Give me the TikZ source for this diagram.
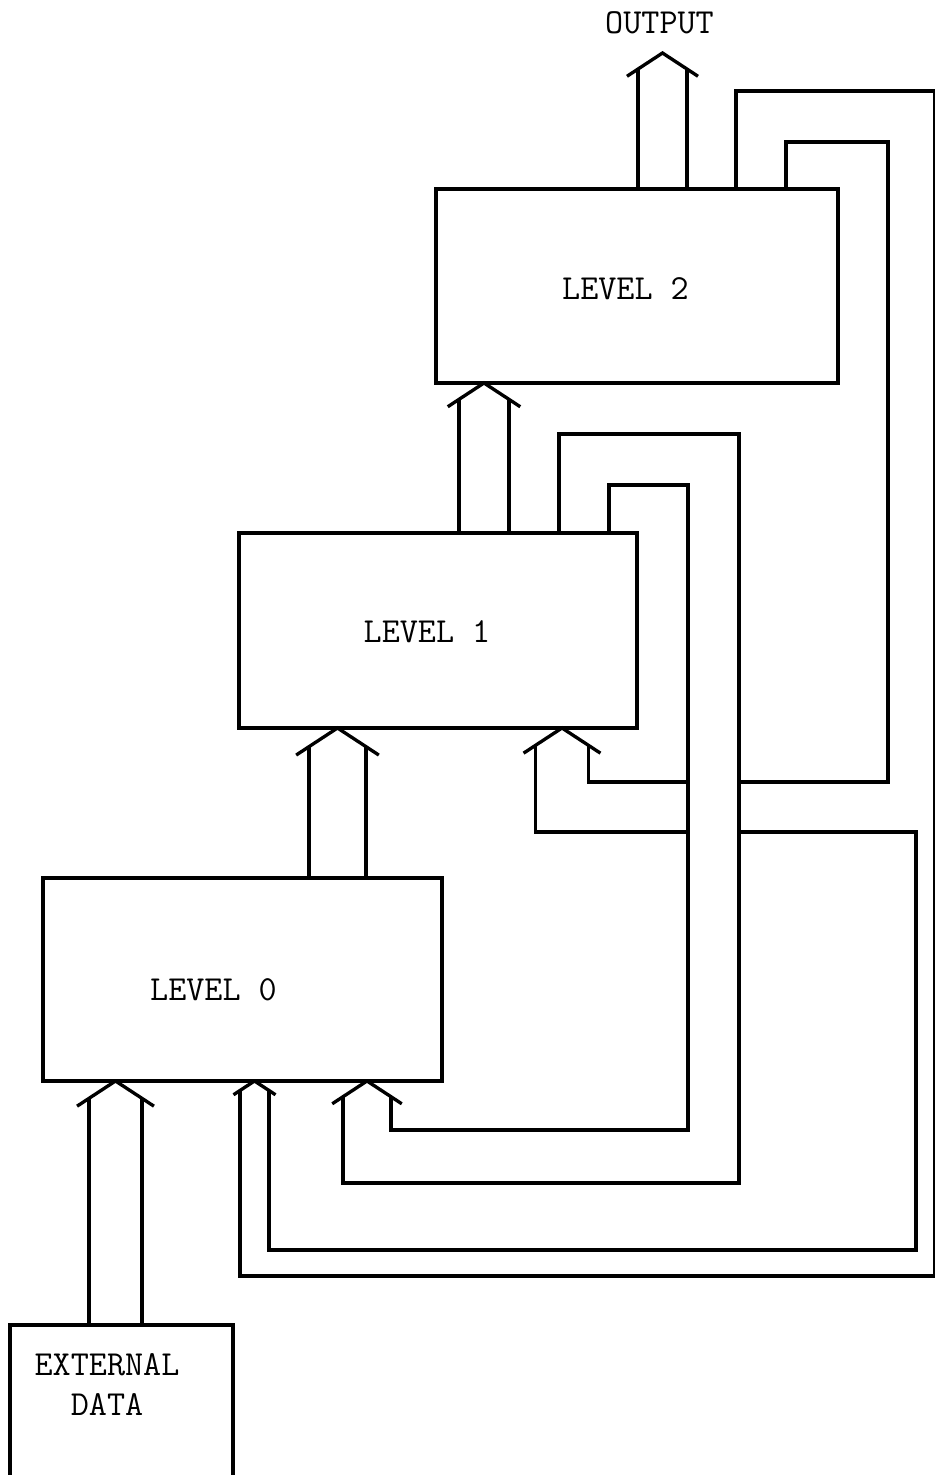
\documentclass[tikz,border=0pt]{standalone}
\usepackage{fontspec}
\usetikzlibrary{calc}

% double-line bus arrowhead: name, edge it points at, x of tip, half width
\newcommand{\bushead}[4]{%
  \coordinate (#1) at (#2 -| #3,0);
  \coordinate (#1l) at ($(#1)+(-#4,0.655*#4)$);
  \coordinate (#1r) at ($(#1)+(#4,0.655*#4)$);
  \draw[wire] ($(#1)+(-1.45*#4,0.95*#4)$) -- (#1) -- ($(#1)+(1.45*#4,0.95*#4)$);}

\begin{document}
\begin{tikzpicture}[
  x=0.02cm, y=-0.02cm,
  wire/.style={line width=1.9pt},
  block/.style={draw, line width=1.9pt, inner sep=0pt, outer sep=0pt},
  txt/.style={font=\ttfamily\fontsize{20}{22.7}\selectfont, inner sep=0pt,
    anchor=base, align=center},
]
\useasboundingbox (0,0) rectangle (934,1475);

% blocks
\node[block, minimum width=8.04cm, minimum height=3.88cm] (L2) at (637,286) {};
\node[block, minimum width=7.96cm, minimum height=3.9cm] (L1) at (438,630.5) {};
\node[block, minimum width=7.98cm, minimum height=4.06cm] (L0) at (242.5,979.5) {};
\node[block, minimum width=4.46cm, minimum height=3.5cm] (ext) at (121.5,1412.5) {};

\node[txt] (t2) at (625.5,299) {LEVEL 2};
\node[txt] (t1) at (427,642) {LEVEL 1};
\node[txt] (t0) at (213.5,1000) {LEVEL 0};
\node[txt] (te) at (107,1415) {EXTERNAL\\DATA};
\node[txt] (out) at (659.5,33) {OUTPUT};

% heads
\coordinate (otip) at (662.5,53);
\bushead{ho}{otip}{662.5}{24.5}
\bushead{h2}{L2.south}{484}{25}
\bushead{h1a}{L1.south}{337.5}{28.5}
\bushead{h1b}{L1.south}{562}{26.5}
\bushead{h0a}{L0.south}{115.5}{26.5}
\bushead{h0b}{L0.south}{254.5}{14.5}
\bushead{h0c}{L0.south}{367}{24}

% upward buses
\draw[wire] (L2.north -| hol) -- (hol);
\draw[wire] (L2.north -| hor) -- (hor);
\draw[wire] (L1.north -| h2l) -- (h2l);
\draw[wire] (L1.north -| h2r) -- (h2r);
\draw[wire] (L0.north -| h1al) -- (h1al);
\draw[wire] (L0.north -| h1ar) -- (h1ar);
\draw[wire] (ext.north -| h0al) -- (h0al);
\draw[wire] (ext.north -| h0ar) -- (h0ar);

% feedback from level 2
\draw[wire] (L2.north -| 736,0) |- (935,91) |- (240,1276) -- (h0bl);
\draw[wire] (L2.north -| 786,0) |- (888,142) |- (739,782);

% feedback from level 1
\draw[wire] (L1.north -| 559,0) |- (739,434) |- (343,1183) -- (h0cl);
\draw[wire] (L1.north -| 609,0) |- (688,485) |- (391,1130) -- (h0cr);

% returns into level 1 and level 0
\draw[wire] (h1br) |- (688,782);
\draw[wire] (h1bl) |- (688,832);
\draw[wire] (739,832) -| (916,1250) -| (h0br);
\end{tikzpicture}
\end{document}
